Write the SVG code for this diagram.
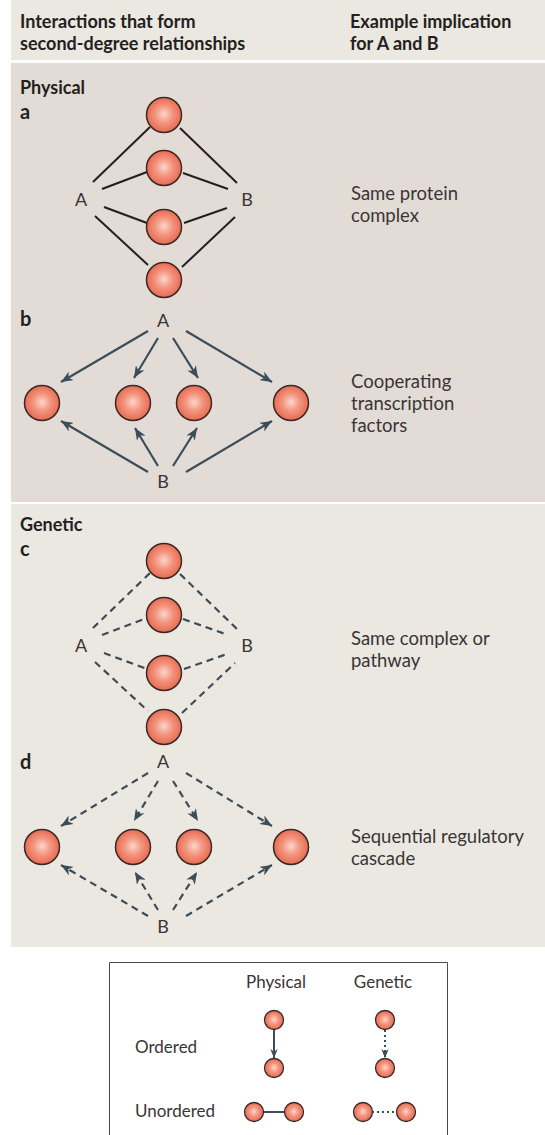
<svg xmlns="http://www.w3.org/2000/svg" width="545" height="1135" viewBox="0 0 545 1135">
<defs>
<radialGradient id="ball" cx="0.5" cy="0.5" r="0.55" fx="0.5" fy="0.47">
<stop offset="0" stop-color="#fcd6cb"/>
<stop offset="0.45" stop-color="#f3957e"/>
<stop offset="1" stop-color="#e6624a"/>
</radialGradient>
<marker id="ah" viewBox="0 0 12 10" refX="12" refY="5" markerWidth="12" markerHeight="10" markerUnits="userSpaceOnUse" orient="auto">
<path d="M0,0 L12,5 L0,10 L3.5,5 z" fill="#3b4d58"/>
</marker>
<marker id="ahs" viewBox="0 0 12 10" refX="12" refY="5" markerWidth="9" markerHeight="8" markerUnits="userSpaceOnUse" orient="auto">
<path d="M0,0 L12,5 L0,10 L3.5,5 z" fill="#3b4d58"/>
</marker>
</defs>
<style>
.ball{fill:url(#ball);stroke:#3a2a26;stroke-width:1.5}
.sb{fill:url(#ball);stroke:#3a2a26;stroke-width:1.3}
.ln{stroke:#231f20;stroke-width:2;fill:none}
.ar{stroke:#3b4d58;stroke-width:2.2;fill:none;marker-end:url(#ah)}
.dl{stroke:#3b4d58;stroke-width:2.2;fill:none;stroke-dasharray:7 5}
.da{stroke:#3b4d58;stroke-width:2.2;fill:none;stroke-dasharray:7 5;marker-end:url(#ah)}
.hd{font-family:Lato,"Liberation Sans",sans-serif;font-weight:bold;font-size:18px;fill:#231f20}
.lb{font-family:Lato,"Liberation Sans",sans-serif;font-weight:bold;font-size:18px;fill:#231f20}
.lt{font-family:Lato,"Liberation Sans",sans-serif;font-weight:bold;font-size:20px;fill:#231f20}
.tx{font-family:Lato,"Liberation Sans",sans-serif;font-size:18.5px;fill:#3a3536}
.lg{font-family:Lato,"Liberation Sans",sans-serif;font-size:17px;fill:#3a3536}
.nd{font-family:Lato,"Liberation Sans",sans-serif;font-size:18px;fill:#3a3536}
</style>
<rect x="0" y="0" width="545" height="1135" fill="#ffffff"/>
<g id="panels">
<rect x="11" y="0" width="534" height="60" fill="#ebe7e1"/>
<rect x="11" y="63" width="534" height="439" fill="#e3dbd6"/>
<rect x="11" y="504" width="534" height="443" fill="#ebe8e2"/>
</g>
<g id="headers">
<text class="hd" x="20" y="28">Interactions that form</text>
<text class="hd" x="20" y="50">second-degree relationships</text>
<text class="hd" x="350" y="28">Example implication</text>
<text class="hd" x="350" y="50">for A and B</text>
<text class="lb" x="20" y="94">Physical</text>
<text class="lt" x="20" y="119">a</text>
<text class="lt" x="20" y="326">b</text>
<text class="lb" x="20" y="531">Genetic</text>
<text class="lt" x="20" y="556">c</text>
<text class="lt" x="20" y="769">d</text>
</g>
<g id="implications">
<text class="tx" x="351" y="200">Same protein</text>
<text class="tx" x="351" y="222">complex</text>
<text class="tx" x="351" y="388">Cooperating</text>
<text class="tx" x="351" y="410">transcription</text>
<text class="tx" x="351" y="432">factors</text>
<text class="tx" x="351" y="645">Same complex or</text>
<text class="tx" x="351" y="667">pathway</text>
<text class="tx" x="351" y="843">Sequential regulatory</text>
<text class="tx" x="351" y="865">cascade</text>
</g>
<g id="connectors">
<line class="ln" x1="93" y1="182" x2="150" y2="127"/>
<line class="ln" x1="180" y1="128" x2="237" y2="183"/>
<line class="ln" x1="102" y1="189" x2="147" y2="172"/>
<line class="ln" x1="183" y1="173" x2="228" y2="189"/>
<line class="ln" x1="104" y1="207" x2="147" y2="223"/>
<line class="ln" x1="184" y1="223" x2="227" y2="208"/>
<line class="ln" x1="95" y1="216" x2="148" y2="265"/>
<line class="ln" x1="182" y1="267" x2="235" y2="217"/>
<line class="ar" x1="148" y1="331" x2="61" y2="382"/>
<line class="ar" x1="158" y1="338" x2="134" y2="378"/>
<line class="ar" x1="173" y1="338" x2="198" y2="378"/>
<line class="ar" x1="186" y1="331" x2="272" y2="382"/>
<line class="ar" x1="148" y1="472" x2="61" y2="421"/>
<line class="ar" x1="158" y1="466" x2="135" y2="428"/>
<line class="ar" x1="173" y1="466" x2="197" y2="428"/>
<line class="ar" x1="186" y1="472" x2="272" y2="421"/>
<line class="dl" x1="93" y1="628" x2="150" y2="573"/>
<line class="dl" x1="180" y1="574" x2="237" y2="629"/>
<line class="dl" x1="102" y1="635" x2="147" y2="618"/>
<line class="dl" x1="183" y1="619" x2="228" y2="635"/>
<line class="dl" x1="104" y1="653" x2="147" y2="669"/>
<line class="dl" x1="184" y1="669" x2="227" y2="654"/>
<line class="dl" x1="95" y1="662" x2="148" y2="711"/>
<line class="dl" x1="182" y1="713" x2="235" y2="663"/>
<line class="da" x1="148" y1="773" x2="61" y2="826"/>
<line class="da" x1="158" y1="781" x2="134" y2="821"/>
<line class="da" x1="173" y1="781" x2="198" y2="821"/>
<line class="da" x1="186" y1="773" x2="272" y2="826"/>
<line class="da" x1="148" y1="916" x2="61" y2="865"/>
<line class="da" x1="158" y1="910" x2="135" y2="872"/>
<line class="da" x1="173" y1="910" x2="197" y2="872"/>
<line class="da" x1="186" y1="916" x2="272" y2="865"/>
</g>
<g id="node-a-A"><text class="nd" x="81" y="206" text-anchor="middle">A</text></g>
<g id="node-a-B"><text class="nd" x="247" y="206" text-anchor="middle">B</text></g>
<g id="node-a-1"><circle class="ball" cx="164" cy="115" r="17.5"/></g>
<g id="node-a-2"><circle class="ball" cx="164" cy="168" r="17.5"/></g>
<g id="node-a-3"><circle class="ball" cx="164" cy="227" r="17.5"/></g>
<g id="node-a-4"><circle class="ball" cx="164" cy="280" r="17.5"/></g>
<g id="node-b-A"><text class="nd" x="163" y="327" text-anchor="middle">A</text></g>
<g id="node-b-B"><text class="nd" x="163" y="488" text-anchor="middle">B</text></g>
<g id="node-b-1"><circle class="ball" cx="42" cy="403" r="17.5"/></g>
<g id="node-b-2"><circle class="ball" cx="133" cy="403" r="17.5"/></g>
<g id="node-b-3"><circle class="ball" cx="194" cy="403" r="17.5"/></g>
<g id="node-b-4"><circle class="ball" cx="291" cy="403" r="17.5"/></g>
<g id="node-c-A"><text class="nd" x="81" y="652" text-anchor="middle">A</text></g>
<g id="node-c-B"><text class="nd" x="247" y="652" text-anchor="middle">B</text></g>
<g id="node-c-1"><circle class="ball" cx="164" cy="561" r="17.5"/></g>
<g id="node-c-2"><circle class="ball" cx="164" cy="615" r="17.5"/></g>
<g id="node-c-3"><circle class="ball" cx="164" cy="673" r="17.5"/></g>
<g id="node-c-4"><circle class="ball" cx="164" cy="727" r="17.5"/></g>
<g id="node-d-A"><text class="nd" x="163" y="768" text-anchor="middle">A</text></g>
<g id="node-d-B"><text class="nd" x="163" y="933" text-anchor="middle">B</text></g>
<g id="node-d-1"><circle class="ball" cx="42" cy="847" r="17.5"/></g>
<g id="node-d-2"><circle class="ball" cx="133" cy="847" r="17.5"/></g>
<g id="node-d-3"><circle class="ball" cx="194" cy="847" r="17.5"/></g>
<g id="node-d-4"><circle class="ball" cx="291" cy="847" r="17.5"/></g>
<g id="legend">
<path d="M109.5,1140 V962.5 H447.5 V1140" fill="none" stroke="#4a4a4a" stroke-width="1"/>
<text class="lg" x="276" y="988" text-anchor="middle">Physical</text>
<text class="lg" x="383" y="988" text-anchor="middle">Genetic</text>
<text class="lg" x="135" y="1053">Ordered</text>
<text class="lg" x="135" y="1117">Unordered</text>
<line x1="274" y1="1030" x2="274" y2="1058" stroke="#3b4d58" stroke-width="2" marker-end="url(#ahs)"/>
<line x1="385" y1="1030" x2="385" y2="1058" stroke="#3b4d58" stroke-width="2" stroke-dasharray="2 3" marker-end="url(#ahs)"/>
<line x1="263" y1="1112" x2="285" y2="1112" stroke="#3b4d58" stroke-width="2"/>
<line x1="372" y1="1112" x2="397" y2="1112" stroke="#3b4d58" stroke-width="2" stroke-dasharray="2 3"/>
<circle class="sb" cx="274" cy="1020" r="9.5"/>
<circle class="sb" cx="274" cy="1068" r="9.5"/>
<circle class="sb" cx="385" cy="1020" r="9.5"/>
<circle class="sb" cx="385" cy="1068" r="9.5"/>
<circle class="sb" cx="254" cy="1112" r="9.5"/>
<circle class="sb" cx="294" cy="1112" r="9.5"/>
<circle class="sb" cx="363" cy="1112" r="9.5"/>
<circle class="sb" cx="406" cy="1112" r="9.5"/>
</g>
</svg>
